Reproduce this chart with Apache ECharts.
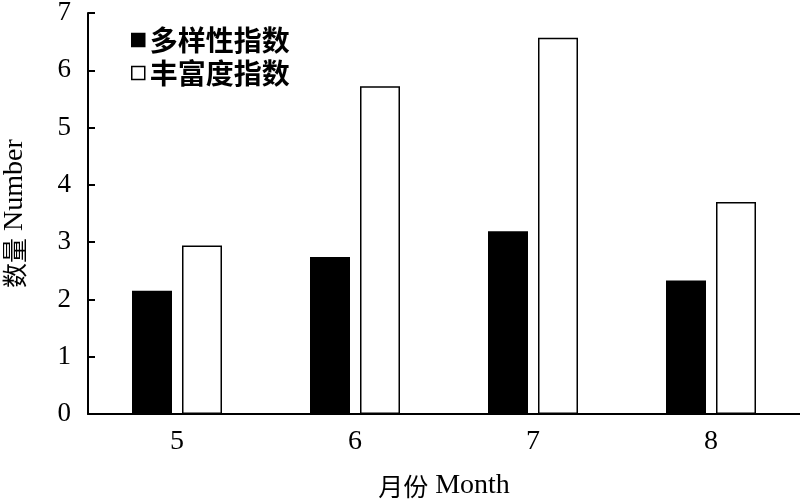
<!DOCTYPE html>
<html>
<head>
<meta charset="utf-8">
<script src="https://cdn.jsdelivr.net/npm/echarts@6/dist/echarts.min.js"></script>
<style>html,body{margin:0;padding:0;background:#fff}#c{width:800px;height:500px}</style>
</head>
<body>
<div id="c"></div>
<script>
const months = ['5', '6', '7', '8'];
const diversity = [2.15, 2.74, 3.19, 2.33];
const richness = [2.94, 5.72, 6.57, 3.70];
const yTicks = [0, 1, 2, 3, 4, 5, 6, 7];

const serif = '"Liberation Serif", "Noto Sans CJK SC", serif';
const cjk = '"Noto Sans CJK SC", sans-serif';
const nameRich = {
  c: { fontFamily: cjk, fontSize: 25, color: '#000' },
  l: { fontFamily: serif, fontSize: 28, color: '#000' }
};
const chart = echarts.init(document.getElementById('c'));
chart.setOption({
  animation: false,
  backgroundColor: '#fff',
  grid: { left: 88, right: 0, top: 13, bottom: 86, containLabel: false, outerBoundsMode: 'none' },
  legend: {
    orient: 'vertical',
    left: 126, top: 21,
    itemWidth: 13, itemHeight: 13, itemGap: 5,
    textStyle: { fontFamily: cjk, fontSize: 28, color: '#000', fontWeight: 'bold' },
    data: [
      { name: '多样性指数', icon: 'rect', itemStyle: { color: '#000', borderColor: '#000', borderWidth: 1.5 } },
      { name: '丰富度指数', icon: 'rect', itemStyle: { color: '#fff', borderColor: '#000', borderWidth: 1.5 } }
    ]
  },
  xAxis: {
    type: 'category',
    data: months,
    name: '{c|月份}{l| Month}',
    nameLocation: 'middle',
    nameGap: 58,
    nameTextStyle: { rich: nameRich },
    axisLine: { lineStyle: { color: '#000', width: 2 } },
    axisTick: { show: false },
    axisLabel: { fontFamily: serif, fontSize: 28, color: '#000', margin: 14 }
  },
  yAxis: {
    type: 'value',
    min: 0, max: 7, interval: 1,
    name: '{c|数量}{l| Number}',
    nameLocation: 'middle',
    nameGap: 59,
    nameRotate: 90,
    nameTextStyle: { rich: nameRich },
    axisLine: { show: true, lineStyle: { color: '#000', width: 2 } },
    axisTick: { show: true, inside: true, length: 7, lineStyle: { color: '#000', width: 2 } },
    splitLine: { show: false },
    axisLabel: {
      fontFamily: serif, fontSize: 27, color: '#000', margin: 17,
      formatter: v => yTicks.includes(v) ? String(v) : ''
    }
  },
  series: [
    {
      name: '多样性指数', type: 'bar', data: diversity,
      barWidth: 40, barGap: '25%',
      itemStyle: { color: '#000', borderColor: '#000', borderWidth: 1.5 }
    },
    {
      name: '丰富度指数', type: 'bar', data: richness,
      barWidth: 40,
      itemStyle: { color: '#fff', borderColor: '#000', borderWidth: 1.5 }
    }
  ]
});
</script>
</body>
</html>
